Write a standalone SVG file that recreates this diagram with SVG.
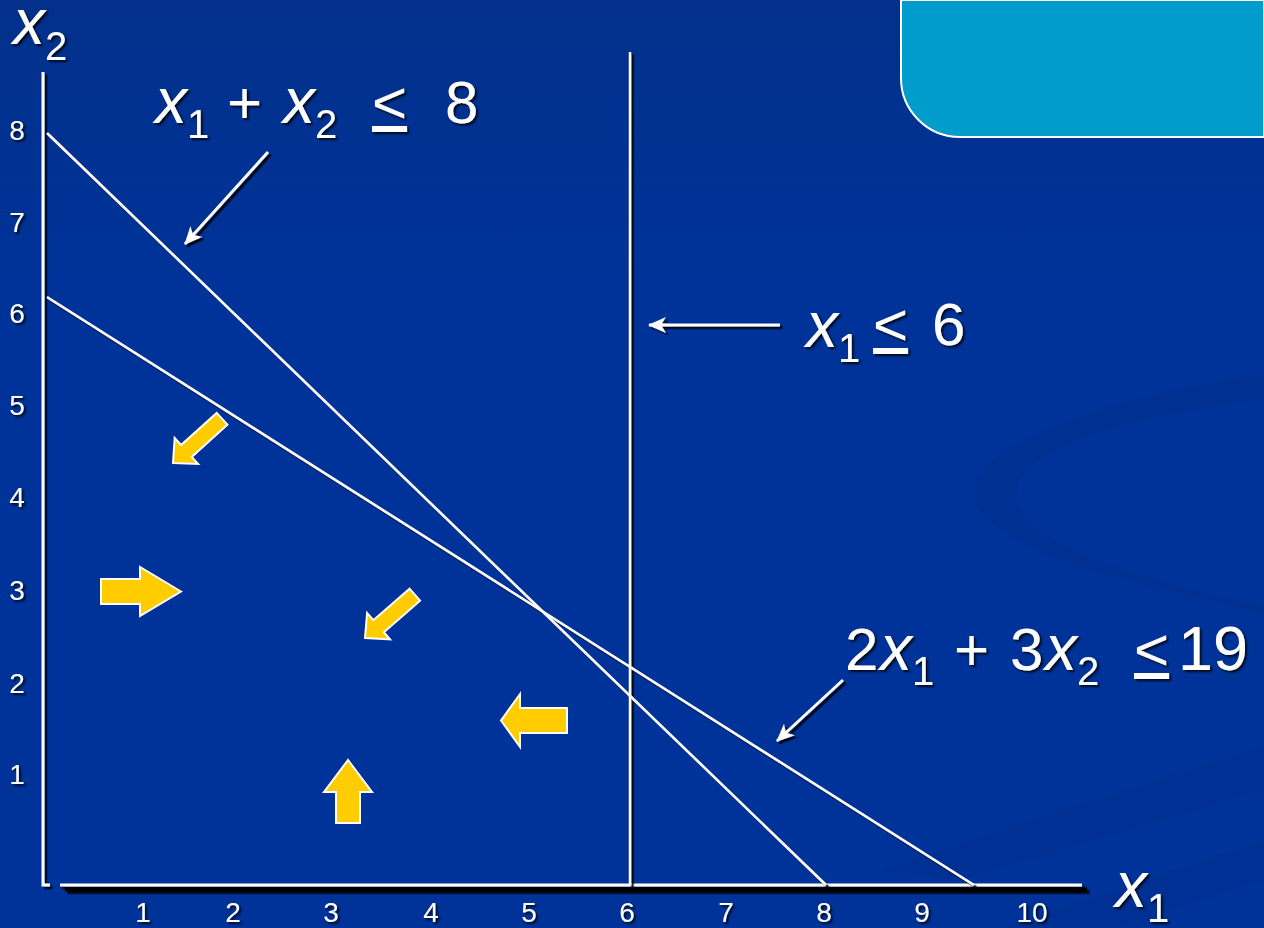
<svg xmlns="http://www.w3.org/2000/svg" width="1264" height="928" viewBox="0 0 1264 928">
<defs>
<filter id="sh" filterUnits="userSpaceOnUse" x="0" y="0" width="1264" height="928">
<feDropShadow dx="2.5" dy="2.5" stdDeviation="0.5" flood-color="#000" flood-opacity="0.85"/>
</filter>
<filter id="tsh" filterUnits="userSpaceOnUse" x="0" y="0" width="1264" height="928">
<feDropShadow dx="2" dy="2" stdDeviation="1" flood-color="#000" flood-opacity="0.8"/>
</filter>
<marker id="ah" viewBox="0 0 18 16" refX="17" refY="8" markerWidth="18" markerHeight="16" markerUnits="userSpaceOnUse" orient="auto">
<path d="M0,0 L18,8 L0,16 L5,8 Z" fill="#fff"/>
</marker>
<linearGradient id="bg" x1="0" y1="0" x2="0" y2="1">
<stop offset="0" stop-color="#02308b"/>
<stop offset="0.3" stop-color="#003399"/>
<stop offset="1" stop-color="#003399"/>
</linearGradient>
</defs>
<style>
.ln{stroke:#fff;stroke-width:2.5;fill:none}
.ax{stroke:#fff;stroke-width:3;fill:none}
.ya{fill:#ffcc00;stroke:#fff;stroke-width:2;stroke-linejoin:miter}
.t{font-family:"Liberation Sans",Arial,sans-serif;fill:#fff}
.tk{font-size:28px;text-anchor:middle}
.big{font-size:60px}
.xv{font-size:64px;font-style:italic}
.sub{font-size:40px}
.cn{stroke:#fff;stroke-width:3;fill:none}
</style>
<g id="background">
<rect x="0" y="0" width="1264" height="928" fill="url(#bg)"/>
<path d="M1264,373 C1120,395 975,440 973,493 C975,540 1100,580 1264,613 L1264,606 C1120,575 1017,540 1017,493 C1017,450 1130,415 1264,400 Z" fill="#002e8c" opacity="0.55"/>
<path d="M880,870 L1264,745 L1264,790 L960,880 Z" fill="#002e8c" opacity="0.4"/>
<path d="M1000,928 L1264,840 L1264,880 L1120,928 Z" fill="#002e8c" opacity="0.4"/>
<path d="M901,0 L1264,0 L1264,137 L960,137 A59,59 0 0 1 901,78 Z" fill="#009ccc" stroke="#fff" stroke-width="2"/>
</g>
<g id="axes" filter="url(#sh)">
<polyline class="ax" points="43,72 43,885 50,885"/>
<line class="ax" x1="60" y1="885" x2="1082" y2="885"/>
<line x1="65" y1="889.5" x2="1087" y2="889.5" stroke="#000" stroke-width="4"/>
</g>
<g id="constraint-lines" filter="url(#sh)">
<line id="line-x1x2" class="ln" x1="47" y1="133" x2="826" y2="885"/>
<line id="line-2x13x2" class="ln" x1="47" y1="297" x2="974" y2="885"/>
<line id="line-x1-6" class="ln" x1="630" y1="52" x2="630" y2="885"/>
</g>
<g id="ticks" filter="url(#tsh)">
<text class="t tk" x="143" y="922">1</text>
<text class="t tk" x="233" y="922">2</text>
<text class="t tk" x="331" y="922">3</text>
<text class="t tk" x="431" y="922">4</text>
<text class="t tk" x="529" y="922">5</text>
<text class="t tk" x="627" y="922">6</text>
<text class="t tk" x="726" y="922">7</text>
<text class="t tk" x="824" y="922">8</text>
<text class="t tk" x="922" y="922">9</text>
<text class="t tk" x="1032" y="922">10</text>
<text class="t tk" x="17" y="140">8</text>
<text class="t tk" x="17" y="232">7</text>
<text class="t tk" x="17" y="323">6</text>
<text class="t tk" x="17" y="415">5</text>
<text class="t tk" x="17" y="507">4</text>
<text class="t tk" x="17" y="600">3</text>
<text class="t tk" x="17" y="693">2</text>
<text class="t tk" x="17" y="784">1</text>
</g>
<g id="axis-x2" filter="url(#tsh)">
<text class="t"><tspan class="xv" x="13" y="44">x</tspan><tspan class="sub" x="45" y="60">2</tspan></text>
</g>
<g id="axis-x1" filter="url(#tsh)">
<text class="t"><tspan class="xv" x="1115" y="907">x</tspan><tspan class="sub" x="1147" y="922">1</tspan></text>
</g>
<g id="label-c1" filter="url(#tsh)">
<text class="t"><tspan class="xv" x="155" y="123">x</tspan><tspan class="sub" x="187" y="138">1</tspan><tspan class="big" x="227" y="123">+</tspan><tspan class="xv" x="283" y="123">x</tspan><tspan class="sub" x="315" y="138">2</tspan><tspan class="big" x="372" y="123" text-decoration="underline">&lt;</tspan><tspan class="big" x="445" y="123">8</tspan></text>
</g>
<g id="label-c2" filter="url(#tsh)">
<text class="t"><tspan class="xv" x="806" y="347">x</tspan><tspan class="sub" x="838" y="362">1</tspan><tspan class="big" x="873" y="345" text-decoration="underline">&lt;</tspan><tspan class="big" x="932" y="345">6</tspan></text>
</g>
<g id="label-c3" filter="url(#tsh)">
<text class="t"><tspan class="big" x="845" y="670">2</tspan><tspan class="xv" x="880" y="670">x</tspan><tspan class="sub" x="912" y="685">1</tspan><tspan class="big" x="954" y="670">+</tspan><tspan class="big" x="1010" y="670">3</tspan><tspan class="xv" x="1045" y="670">x</tspan><tspan class="sub" x="1077" y="685">2</tspan><tspan class="big" x="1134" y="670" text-decoration="underline">&lt;</tspan><tspan x="1178" y="670" style="font-size:63px">19</tspan></text>
</g>
<g id="connectors" filter="url(#sh)">
<line class="cn" x1="268" y1="152" x2="185" y2="244" marker-end="url(#ah)"/>
<line class="cn" x1="780" y1="325" x2="649" y2="325" marker-end="url(#ah)"/>
<line class="cn" x1="843" y1="680" x2="777" y2="741" marker-end="url(#ah)"/>
</g>
<g id="direction-arrows">
<polygon id="arrow-a" class="ya" transform="translate(173,463) rotate(138)" points="0,0 -18,-17.5 -18,-8 -66,-8 -66,8 -18,8 -18,17.5"/>
<polygon id="arrow-b" class="ya" transform="translate(181,591.5)" points="0,0 -41,-24.5 -41,-12.5 -80,-12.5 -80,12.5 -41,12.5 -41,24.5"/>
<polygon id="arrow-c" class="ya" transform="translate(365,638) rotate(139)" points="0,0 -18,-17.5 -18,-8 -66,-8 -66,8 -18,8 -18,17.5"/>
<polygon id="arrow-d" class="ya" transform="translate(348,760) rotate(-90)" points="0,0 -32,-24 -32,-12 -63,-12 -63,12 -32,12 -32,24"/>
<polygon id="arrow-e" class="ya" transform="translate(501,720.5) rotate(180)" points="0,0 -19,-26.5 -19,-12.5 -66,-12.5 -66,12.5 -19,12.5 -19,26.5"/>
</g>
</svg>
